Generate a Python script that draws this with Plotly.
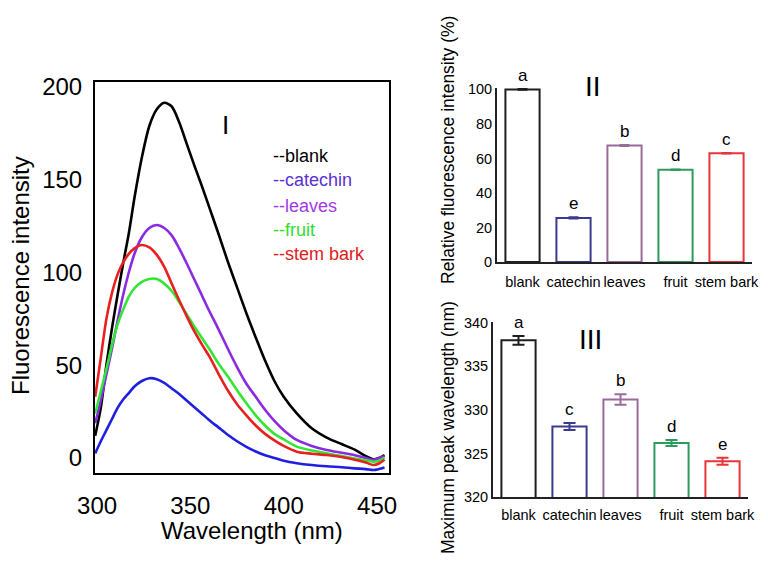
import plotly.graph_objects as go

# ---------------- data ----------------
wavelength = [299, 302, 305, 308, 311, 314, 317, 320, 324, 328, 332, 336, 340, 344, 348, 352, 356, 360,
              365, 370, 375, 380, 385, 390, 395, 400, 407, 415, 423, 431, 438, 444, 448, 451, 454]
blank_y = [12, 27, 50, 70, 88, 105, 121, 140, 162, 179, 188, 191.5, 189.5, 181, 169.5, 158, 147, 135.5,
           121, 106, 92, 78, 65, 52.5, 41.5, 33, 24, 16, 11, 7.5, 4.5, 1, -0.7, 0, 1.6]
catechin_y = [2.5, 9, 15, 21, 27, 31.5, 35, 38.5, 41.5, 43, 42.5, 40.5, 37.5, 34.5, 31, 27.5, 24, 20.5,
              16.5, 12.5, 9, 6, 3.5, 1.5, 0, -1.5, -2.8, -3.8, -4.5, -5, -5.6, -6, -6.5, -6, -5.2]
leaves_y = [18.7, 31, 45, 59, 74, 88, 100, 110, 119, 124, 125.6, 124, 120, 113, 105, 96.5, 88, 79.5,
            69.5, 59, 49, 40, 33, 26, 20, 15, 9.7, 6.5, 4.3, 2.8, 1.5, 0, -1, 0, 1]
fruit_y = [24, 36, 48, 61, 72, 80, 87, 91.5, 95, 96.5, 96.5, 94, 90, 84, 77.5, 71, 65, 59,
           51, 44, 36.5, 29.5, 23, 17.5, 13, 10, 6.1, 4, 2.5, 1, -0.3, -1.3, -2, -1.5, 0]
stembark_y = [33, 54, 75, 89, 99, 105.5, 110, 113, 114.8, 113.5, 109.5, 103, 94, 85, 76.5, 68.5, 61.5, 55,
              45.5, 36.5, 29, 23, 17.5, 13, 9.5, 6.5, 3.4, 2.3, 1.6, 0.5, -1, -2.5, -3.8, -3, -1]

series_names = ["blank", "catechin", "leaves", "fruit", "stem bark"]
line_colors = ["#000000", "#1f1fe0", "#8a2be2", "#33e633", "#e82020"]
legend_colors = ["#000000", "#5a2fd6", "#a23ae6", "#2fdc2f", "#e02020"]

categories = ["blank", "catechin", "leaves", "fruit", "stem bark"]
rel_intensity = [100, 25.5, 67.5, 53.5, 63]
rel_err = [0.3, 0.5, 0.4, 0.3, 0.3]
rel_letters = ["a", "e", "b", "d", "c"]
peak_wl = [338.0, 328.1, 331.2, 326.2, 324.1]
peak_err = [0.5, 0.4, 0.6, 0.35, 0.4]
peak_letters = ["a", "c", "b", "d", "e"]
bar_colors = ["#1e1e1e", "#3a3a90", "#9a6b9a", "#2e9a5e", "#e8353a"]

FONT = "Arial, Liberation Sans, sans-serif"
# the page body has an 8px margin, so the figure is shifted by 8px
OFF = 8
W, H = 768 - OFF, 565 - OFF


def px_x(p):
    return (p - OFF) / W


def px_y(p):
    return 1 - (p - OFF) / H


fig = go.Figure()

# ---------------- panel I ----------------
for name, ys, col in zip(series_names, [blank_y, catechin_y, leaves_y, fruit_y, stembark_y], line_colors):
    fig.add_trace(go.Scatter(x=wavelength, y=ys, mode="lines", name=name,
                             line=dict(color=col, width=2.6, shape="spline", smoothing=0.8),
                             xaxis="x", yaxis="y", showlegend=False))

# ---------------- panel II ----------------
for i, c in enumerate(categories):
    fig.add_trace(go.Bar(x=[c], y=[rel_intensity[i]], width=0.67,
                         marker=dict(color="white", line=dict(color=bar_colors[i], width=2)),
                         error_y=dict(type="data", array=[rel_err[i]], color=bar_colors[i],
                                      thickness=1.5, width=5),
                         xaxis="x2", yaxis="y2", showlegend=False))
    fig.add_annotation(x=c, y=rel_intensity[i] + rel_err[i], xref="x2", yref="y2", text=rel_letters[i],
                       showarrow=False, xanchor="center", yanchor="bottom", yshift=2,
                       font=dict(family=FONT, size=17, color="black"))

# ---------------- panel III ----------------
for i, c in enumerate(categories):
    fig.add_trace(go.Bar(x=[c], y=[peak_wl[i]], width=0.67,
                         marker=dict(color="white", line=dict(color=bar_colors[i], width=2)),
                         error_y=dict(type="data", array=[peak_err[i]], color=bar_colors[i],
                                      thickness=2, width=6),
                         xaxis="x3", yaxis="y3", showlegend=False))
    fig.add_annotation(x=c, y=peak_wl[i] + peak_err[i], xref="x3", yref="y3", text=peak_letters[i],
                       showarrow=False, xanchor="center", yanchor="bottom", yshift=2,
                       font=dict(family=FONT, size=17, color="black"))

axis_font_big = dict(family=FONT, size=24, color="black")
axis_font_small = dict(family=FONT, size=14.5, color="black")

fig.update_layout(
    width=W, height=H,
    margin=dict(l=0, r=0, t=0, b=0, autoexpand=False),
    paper_bgcolor="white", plot_bgcolor="white",
    barmode="overlay",
    xaxis=dict(domain=[px_x(95), px_x(389)], range=[298.9, 456.4], tickvals=[300, 350, 400, 450],
               showgrid=False, zeroline=False, showline=True, mirror=True, linecolor="black", linewidth=2,
               ticks="outside", ticklen=10, tickcolor="rgba(0,0,0,0)", tickfont=axis_font_big,
               tickangle=0, automargin=False, anchor="y"),
    yaxis=dict(domain=[px_y(473), px_y(82)], range=[-8.1, 202.7], tickvals=[0, 50, 100, 150, 200],
               showgrid=False, zeroline=False, showline=True, mirror=True, linecolor="black", linewidth=2,
               ticks="outside", ticklen=6, tickcolor="rgba(0,0,0,0)", tickfont=axis_font_big,
               automargin=False, anchor="x"),
    xaxis2=dict(domain=[px_x(497), px_x(752)], range=[-0.5, 4.5], type="category",
                categoryorder="array", categoryarray=categories,
                showgrid=False, zeroline=False, showline=True, linecolor="#222", linewidth=2,
                ticks="outside", ticklen=6, tickcolor="rgba(0,0,0,0)", tickfont=axis_font_small,
                tickangle=0, automargin=False, anchor="y2"),
    yaxis2=dict(domain=[px_y(262), px_y(88)], range=[0, 100.8], tickvals=[0, 20, 40, 60, 80, 100],
                showgrid=False, zeroline=False, showline=True, linecolor="#222", linewidth=2,
                ticks="", tickfont=axis_font_small, automargin=False, anchor="x2"),
    xaxis3=dict(domain=[px_x(493), px_x(748)], range=[-0.5, 4.5], type="category",
                categoryorder="array", categoryarray=categories,
                showgrid=False, zeroline=False, showline=True, linecolor="#222", linewidth=2,
                ticks="outside", ticklen=4, tickcolor="rgba(0,0,0,0)", tickfont=axis_font_small,
                tickangle=0, automargin=False, anchor="y3"),
    yaxis3=dict(domain=[px_y(497), px_y(322)], range=[320, 340.1], tickvals=[320, 325, 330, 335, 340],
                showgrid=False, zeroline=False, showline=True, linecolor="#222", linewidth=2,
                ticks="", tickfont=axis_font_small, automargin=False, anchor="x3"),
)


def paper_text(x, y, text, font, angle=0, xanchor="center"):
    fig.add_annotation(x=px_x(x), y=px_y(y), xref="paper", yref="paper", text=text,
                       showarrow=False, textangle=angle, xanchor=xanchor, yanchor="middle",
                       font=font)


# axis titles
paper_text(252, 530, "Wavelength (nm)", axis_font_big)
paper_text(20, 276, "Fluorescence intensity", axis_font_big, angle=-90)
paper_text(448, 150, "Relative fluorescence intensity (%)", dict(family=FONT, size=17.5, color="black"), angle=-90)
paper_text(448, 428, "Maximum peak wavelength (nm)", dict(family=FONT, size=17.5, color="black"), angle=-90)

# panel labels
paper_text(225, 125, "I", dict(family=FONT, size=26, color="black"))
paper_text(593, 86, "II", dict(family=FONT, size=28, color="black"))
paper_text(590, 340, "III", dict(family=FONT, size=28, color="black"))

# text legend
legend_y = [156, 180, 206, 230, 254]
for name, col, ly in zip(series_names, legend_colors, legend_y):
    paper_text(271, ly, "--" + name, dict(family=FONT, size=18, color=col), xanchor="left")

fig.write_html("out.html")
